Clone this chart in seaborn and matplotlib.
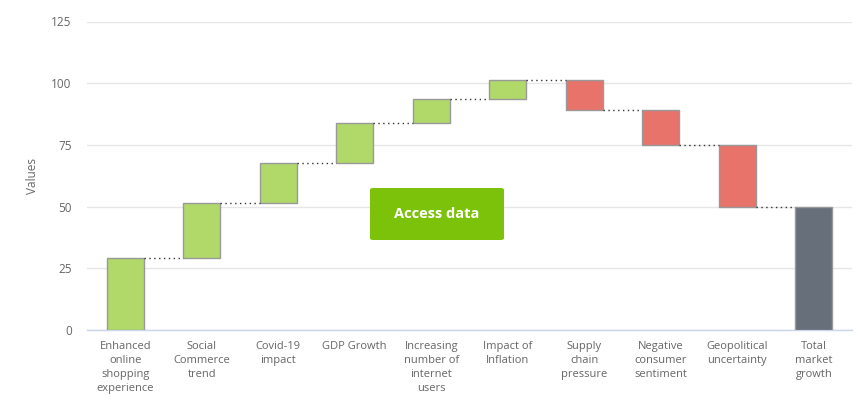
import numpy as np
import matplotlib
matplotlib.use("Agg")
import matplotlib.pyplot as plt
import seaborn as sns
from matplotlib.patches import FancyBboxPatch

# Data
categories = [
    "Enhanced\nonline\nshopping\nexperience",
    "Social\nCommerce\ntrend",
    "Covid-19\nimpact",
    "GDP Growth",
    "Increasing\nnumber of\ninternet\nusers",
    "Impact of\nInflation",
    "Supply\nchain\npressure",
    "Negative\nconsumer\nsentiment",
    "Geopolitical\nuncertainty",
    "Total\nmarket\ngrowth",
]
changes = [29.0, 22.3, 16.2, 16.2, 10.0, 7.5, -12.2, -14.2, -24.8]
y_ticks = [0, 25, 50, 75, 100, 125]

sns.set_theme(style="white")
plt.rcParams["font.family"] = ["Open Sans", "DejaVu Sans"]

green = "#b0d96a"
red = "#e8736a"
grey = "#676f7a"

# running totals for the waterfall
ends = np.cumsum(changes)
starts = np.concatenate([[0], ends[:-1]])
bottoms = list(np.minimum(starts, ends)) + [0]
heights = list(np.abs(changes)) + [ends[-1]]
colors = [green if c >= 0 else red for c in changes] + [grey]

fig = plt.figure(figsize=(8.6, 4.03), dpi=100)
ax = fig.add_axes([87 / 860, 1 - 330 / 403, 765 / 860, 308.5 / 403])

x = np.arange(len(categories))
bw = 0.49
ax.bar(x, heights, bottom=bottoms, width=bw, color=colors,
       edgecolor="#999999", linewidth=1, zorder=3)

# dotted connectors between bars
for i, lv in enumerate(ends):
    ax.hlines(lv, i + bw / 2, i + 1 - bw / 2, colors="#333333",
              linestyles=(0, (1, 2.5)), linewidth=1, zorder=3)

ax.set_xlim(-0.5, len(categories) - 0.5)
ax.set_ylim(0, 125)
ax.set_yticks(y_ticks)
ax.set_xticks(x)
ax.set_xticklabels(categories, fontsize=8, color="#666666", linespacing=1.35)
ax.tick_params(axis="y", labelsize=8.5, labelcolor="#666666", length=0, pad=11)
ax.tick_params(axis="x", length=0, pad=8)
for lab in ax.get_xticklabels():
    lab.set_verticalalignment("top")
ax.yaxis.grid(True, color="#e6e6e6", linewidth=1, zorder=0)
ax.xaxis.grid(False)
for s in ["top", "right", "left"]:
    ax.spines[s].set_visible(False)
ax.spines["bottom"].set_color("#ccd6eb")
ax.spines["bottom"].set_linewidth(1)
ax.set_ylabel("Values", fontsize=8.5, color="#666666", labelpad=9)

# "Access data" button overlay
btn = FancyBboxPatch((370 / 860, 1 - 240 / 403), 134 / 860, 52 / 403,
                     boxstyle="round,pad=0,rounding_size=0.004",
                     transform=fig.transFigure, facecolor="#7dc20a",
                     edgecolor="none", zorder=10)
fig.patches.append(btn)
fig.text(437 / 860, 1 - 214 / 403, "Access data", color="white",
         fontsize=10.5, fontweight="bold", ha="center", va="center", zorder=11)

fig.savefig("out.png", dpi=100)
